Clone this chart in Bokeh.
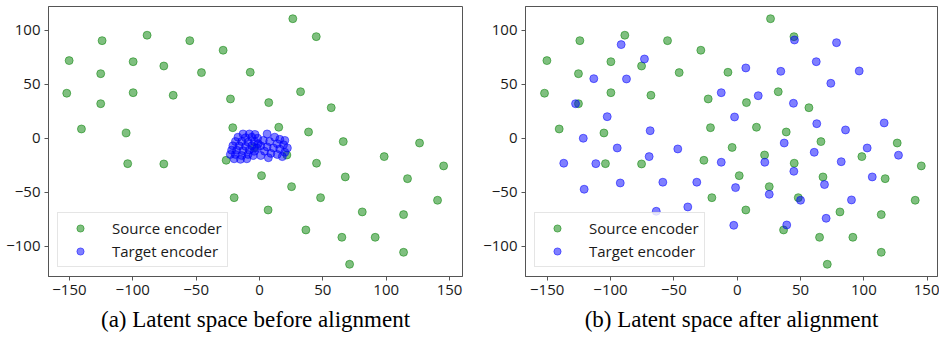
from bokeh.plotting import figure
from bokeh.layouts import row
from bokeh.models import FixedTicker, Legend, LegendItem, Title, Range1d
from bokeh.embed import file_html
from bokeh.resources import INLINE

# Source encoder embeddings (same in both panels)
src_x = [-150.2, -124.2, -88.7, -55.0, -28.7, -99.7, -75.5, -45.8, -125.3, -152.1,
         -99.7, -68.1, -125.3, -22.9, -140.5, -105.2, -21.1, -104.0, -75.5, -26.3,
         -20.0, 26.3, 44.8, -7.3, 32.4, 7.3, 56.6, 15.2, 38.7, 66.1,
         126.3, 21.6, 98.4, 45.0, 145.3, 1.6, 67.7, 116.8, 25.3, 48.2,
         140.5, 6.8, 81.1, 113.7, 36.6, 65.0, 91.3, 113.7, 71.1, -4.0]
src_y = [71.9, 90.4, 95.4, 90.4, 81.5, 70.9, 66.9, 60.8, 59.8, 41.7,
         42.2, 39.8, 32.0, 36.4, 8.6, 4.9, 9.8, -23.5, -23.8, -20.4,
         -55.0, 110.7, 94.1, 61.1, 43.1, 33.0, 28.3, 10.2, 5.8, -3.1,
         -4.4, -15.5, -17.0, -23.1, -25.6, -34.6, -35.8, -37.4, -44.8, -55.0,
         -57.4, -66.4, -68.2, -70.7, -84.9, -91.7, -91.7, -105.6, -116.7, -8.5]

# Target encoder embeddings before alignment (collapsed cluster)
tgt_before_x = [-13, -8, -3.5, -17, -11, -6, -1.5, -19, -14, -9,
                -4, -1, -21, -16, -11, -6, -2, -22, -18, -13,
                -8, -4, -23, -19, -14, -9, -20, -15, -10, -5,
                6, 12, 16, 20, 3, 8, 14, 19, 22, 1,
                6, 11, 16, 20, 4, 9, 14, 18, 1, 7]
tgt_before_y = [4, 4, 3.5, 1, 0.5, 1, 0, -3, -3, -3.5,
                -3, -5, -7, -7, -7.5, -7, -9, -11, -11, -11.5,
                -11, -12, -15, -15, -16, -15, -19, -19.5, -19, -16,
                4, 1, -1, -2, -2, -3, -5, -6, -9, -7,
                -8, -9, -10, -13, -12, -14, -15, -17, -16, -18]

# Target encoder embeddings after alignment
tgt_after_x = [-91.6, -73.2, -113.2, -87.4, -127.6, -102.6, -68.7, -121.5, -94.7, -46.9,
               -69.5, -136.9, -111.6, -92.3, -58.7, -31.9, -120.8, -39.0, -63.9, 45.2,
               78.4, 62.4, 6.8, 34.4, 96.3, 73.9, -12.6, 16.6, 44.4, -2.1,
               62.8, 116.0, 85.5, 37.1, 102.6, 60.8, 127.3, -12.6, 21.8, 82.1,
               44.7, 106.6, 68.9, -1.3, 25.3, 50.0, 90.2, 70.2, 39.1, -2.7]
tgt_after_y = [86.7, 73.4, 55.2, 54.9, 32.0, 20.0, 7.0, 0.0, -9.0, -9.9,
               -17.0, -23.1, -23.5, -41.4, -40.7, -40.7, -47.2, -63.6, -67.6, 91.0,
               88.5, 70.9, 65.1, 62.0, 62.3, 50.9, 42.2, 39.4, 32.4, 19.7,
               13.5, 14.2, 7.7, -4.4, -9.0, -13.0, -15.7, -22.2, -22.2, -21.7,
               -30.6, -35.8, -42.9, -45.7, -51.9, -57.4, -57.1, -74.1, -80.3, -80.6]

x_ticks = [-150, -100, -50, 0, 50, 100, 150]
y_ticks = [-100, -50, 0, 50, 100]
labels = ["Source encoder", "Target encoder"]
captions = ["(a) Latent space before alignment", "(b) Latent space after alignment"]

TICK_FONT = "Open Sans"
EDGE = "#555555"


def make_panel(tx, ty, caption, width, mbl, mbr, xr):
    p = figure(width=width, height=339, output_backend="svg", toolbar_location=None,
               x_range=Range1d(*xr), y_range=Range1d(-128, 122),
               min_border_left=mbl, min_border_right=mbr,
               min_border_top=6, min_border_bottom=63)
    p.grid.visible = False
    p.outline_line_color = EDGE
    p.outline_line_width = 1
    p.background_fill_color = "white"
    p.border_fill_color = "white"
    for ax, ticks in ((p.xaxis, x_ticks), (p.yaxis, y_ticks)):
        ax.ticker = FixedTicker(ticks=ticks)
        ax.axis_line_color = EDGE
        ax.major_tick_line_color = EDGE
        ax.major_tick_out = 4
        ax.major_tick_in = 0
        ax.minor_tick_line_color = None
        ax.major_label_text_font = TICK_FONT
        ax.major_label_text_font_size = "15px"
        ax.major_label_text_color = "#1a1a1a"
        ax.major_label_standoff = 4

    r1 = p.scatter(src_x, src_y, size=8, fill_color="#008000", fill_alpha=0.5,
                   line_color="#008000", line_alpha=0.5, line_width=1)
    r2 = p.scatter(tx, ty, size=8, fill_color="#0000ff", fill_alpha=0.5,
                   line_color="#0000ff", line_alpha=0.5, line_width=1)

    legend = Legend(items=[LegendItem(label=labels[0], renderers=[r1]),
                           LegendItem(label=labels[1], renderers=[r2])],
                    location=(9, 9), padding=5, spacing=3,
                    glyph_width=34, glyph_height=18, label_height=18,
                    label_standoff=15, margin=0,
                    label_text_font=TICK_FONT, label_text_font_size="15px",
                    label_text_color="#1a1a1a",
                    border_line_color="#cccccc", border_line_width=1,
                    background_fill_color="white", background_fill_alpha=0.8)
    p.add_layout(legend)

    p.add_layout(Title(text=caption, align="center", text_font="Liberation Serif",
                       text_font_size="23px", text_font_style="normal",
                       text_color="black", standoff=14), "below")
    return p


p1 = make_panel(tgt_before_x, tgt_before_y, captions[0], 477, 48, 15, (-166.5, 160.2))
p2 = make_panel(tgt_after_x, tgt_after_y, captions[1], 462, 48, 2, (-167.1, 158.1))

layout = row(p1, p2)
open("out.html", "w").write(file_html(layout, INLINE))
